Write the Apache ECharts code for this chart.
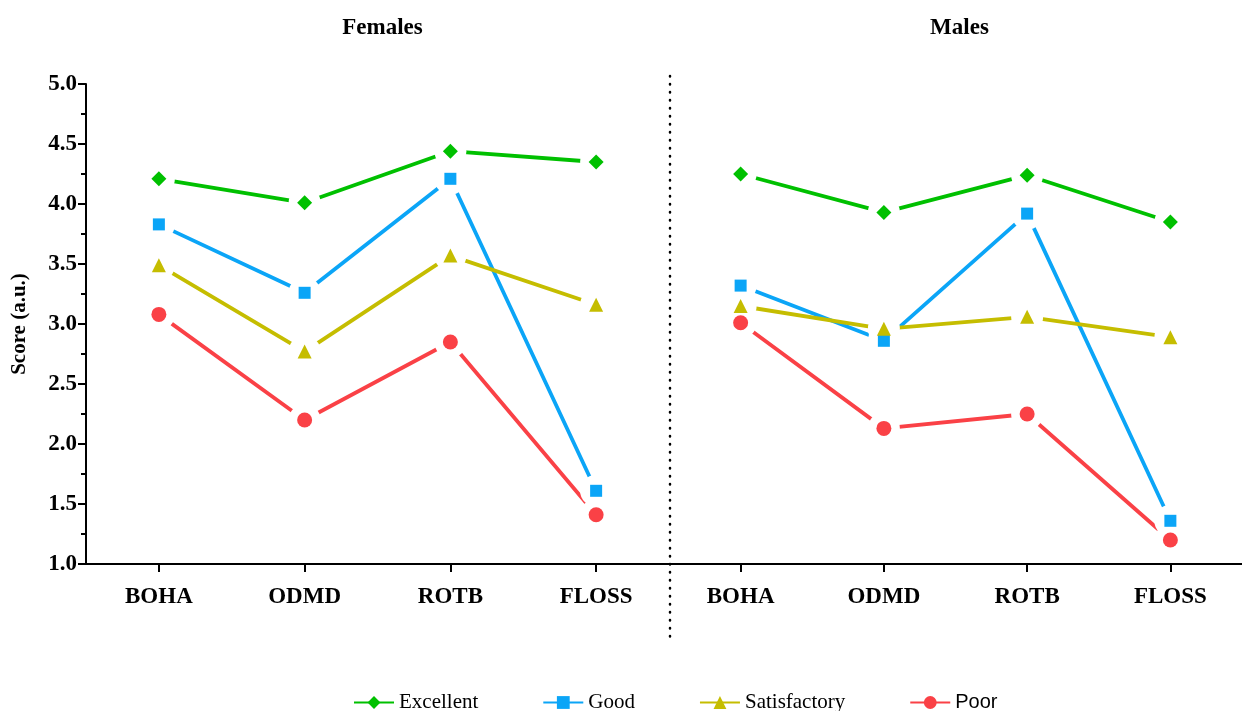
<!DOCTYPE html>
<html>
<head>
<meta charset="utf-8">
<script src="https://cdn.jsdelivr.net/npm/echarts@6/dist/echarts.min.js"></script>
<style>
  html, body { margin: 0; padding: 0; background: #ffffff; }
  #chart { width: 1242px; height: 711px; }
</style>
</head>
<body>
<div id="chart"></div>
<script>
const categories = ['BOHA', 'ODMD', 'ROTB', 'FLOSS'];
const levels = ['Excellent', 'Good', 'Satisfactory', 'Poor'];
const panelTitles = ['Females', 'Males'];

const femaleExcellent    = [4.21, 4.01, 4.44, 4.35];
const femaleGood         = [3.83, 3.26, 4.21, 1.61];
const femaleSatisfactory = [3.49, 2.77, 3.57, 3.16];
const femalePoor         = [3.08, 2.20, 2.85, 1.41];

const maleExcellent      = [4.25, 3.93, 4.24, 3.85];
const maleGood           = [3.32, 2.86, 3.92, 1.36];
const maleSatisfactory   = [3.15, 2.96, 3.06, 2.89];
const malePoor           = [3.01, 2.13, 2.25, 1.20];

const yMin = 1.0, yMax = 5.0, yInterval = 0.5;

const colors  = ['#00c000', '#0ba5f7', '#c5bd00', '#fa4146'];
const symbols = ['diamond', 'rect', 'triangle', 'circle'];
const sizes   = [15, 12, 14, 15];

const panels = [
  [femaleExcellent, femaleGood, femaleSatisfactory, femalePoor],
  [maleExcellent, maleGood, maleSatisfactory, malePoor]
];

const SERIF = '"Liberation Serif", "DejaVu Serif", serif';
const SANS = '"Liberation Sans", "DejaVu Sans", sans-serif';

const grids = [
  { left: 86, top: 84, width: 583, height: 480 },
  { left: 669, top: 84, width: 583, height: 480 }
];

const xAxes = grids.map((g, i) => ({
  type: 'category',
  gridIndex: i,
  data: categories,
  boundaryGap: true,
  axisLine: { show: true, lineStyle: { color: '#000', width: 2 } },
  axisTick: { show: true, alignWithLabel: true, length: 8, lineStyle: { color: '#000', width: 2 } },
  axisLabel: { color: '#000', fontFamily: SERIF, fontWeight: 'bold', fontSize: 23, margin: 22 },
  splitLine: { show: false }
}));

const yAxes = grids.map((g, i) => ({
  type: 'value',
  gridIndex: i,
  show: i === 0,
  min: yMin, max: yMax, interval: yInterval,
  name: i === 0 ? 'Score (a.u.)' : '',
  nameLocation: 'middle',
  nameGap: 56,
  nameTextStyle: { color: '#000', fontFamily: SERIF, fontWeight: 'bold', fontSize: 21 },
  axisLine: { show: true, lineStyle: { color: '#000', width: 2 } },
  axisTick: { show: true, length: 8, lineStyle: { color: '#000', width: 2 } },
  minorTick: { show: true, splitNumber: 2, length: 5, lineStyle: { color: '#000', width: 2 } },
  axisLabel: { color: '#000', fontFamily: SERIF, fontWeight: 'bold', fontSize: 23, margin: 9,
    formatter: v => v.toFixed(1) },
  splitLine: { show: false }
}));

const series = [];
panels.forEach((panel, gi) => {
  panel.forEach((vals, k) => {
    series.push({
      type: 'line', name: levels[k], xAxisIndex: gi, yAxisIndex: gi,
      data: vals, symbol: symbols[k], symbolSize: sizes[k],
      itemStyle: { color: colors[k], opacity: 1 },
      lineStyle: { color: colors[k], width: 3.8 },
      z: 2, silent: true
    });
  });
});
panels.forEach((panel, gi) => {
  panel.forEach((vals, k) => {
    series.push({
      type: 'scatter', name: '_halo' + gi + k, xAxisIndex: gi, yAxisIndex: gi,
      data: vals, symbol: 'circle', symbolSize: 32,
      itemStyle: { color: '#ffffff', opacity: 1 }, z: 3, silent: true
    });
  });
});
panels.forEach((panel, gi) => {
  panel.forEach((vals, k) => {
    series.push({
      type: 'scatter', name: '_mark' + gi + k, xAxisIndex: gi, yAxisIndex: gi,
      data: vals, symbol: symbols[k], symbolSize: sizes[k],
      itemStyle: { color: colors[k], opacity: 1 }, z: 4, silent: true
    });
  });
});

const chart = echarts.init(document.getElementById('chart'), null, { renderer: 'canvas' });
chart.setOption({
  backgroundColor: '#ffffff',
  animation: false,
  title: panelTitles.map((t, i) => ({
    text: t,
    left: grids[i].left + grids[i].width / 2 - (i === 1 ? 6 : 0),
    top: 12,
    textAlign: 'center',
    textStyle: { color: '#000', fontFamily: SERIF, fontWeight: 'bold', fontSize: 23 }
  })),
  grid: grids,
  xAxis: xAxes,
  yAxis: yAxes,
  legend: {
    data: levels,
    left: 348, top: 687,
    itemWidth: 40, itemHeight: 16, itemGap: 64,
    textStyle: {
      color: '#000', fontFamily: SERIF, fontSize: 21,
      rich: {
        serif: { fontFamily: SERIF, fontSize: 21, color: '#000' },
        sans: { fontFamily: SANS, fontSize: 20, color: '#000' }
      }
    },
    formatter: name => name === 'Poor' ? '{sans|' + name + '}' : '{serif|' + name + '}'
  },
  graphic: [{
    type: 'line',
    shape: { x1: 670, y1: 76, x2: 670, y2: 637 },
    style: { stroke: '#000', lineWidth: 2.5, lineDash: [0.5, 7.5], lineCap: 'round' },
    silent: true
  }],
  series: series
});
</script>
</body>
</html>
